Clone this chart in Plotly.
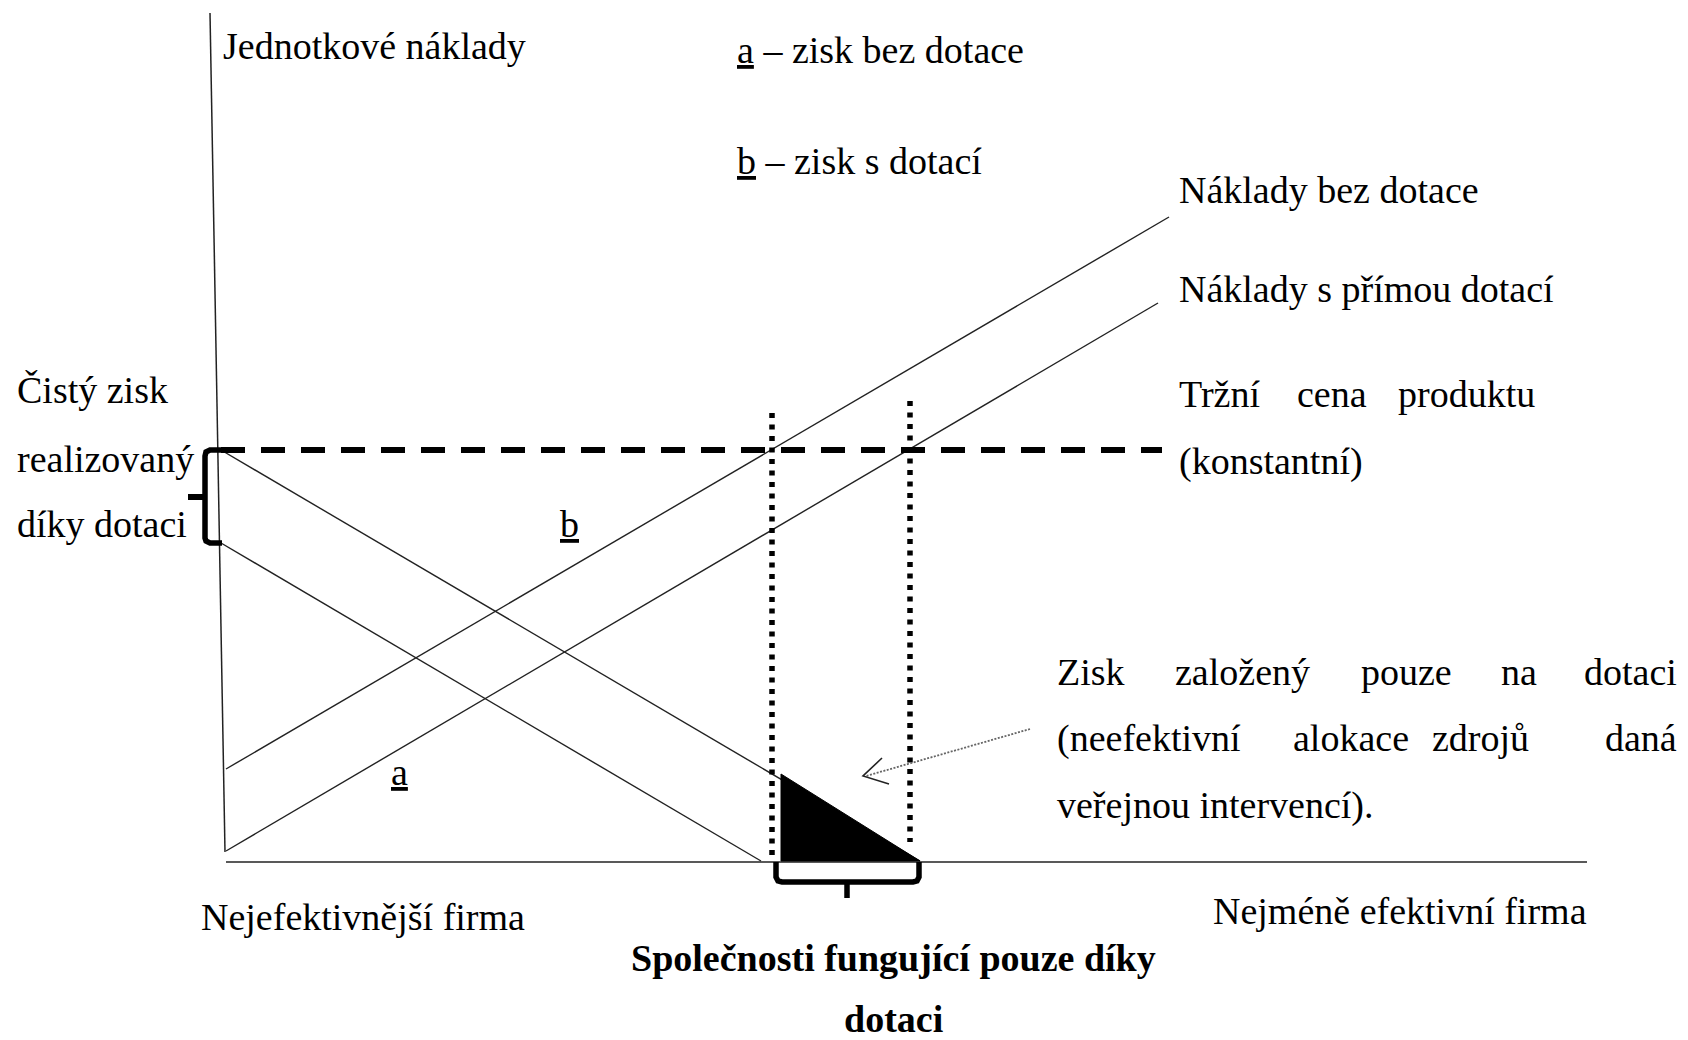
import plotly.graph_objects as go

# ---------------- data (diagram coordinates: x to the right, y downward) ----------------
y_axis_x = [210, 225]
y_axis_y = [13, 852]
x_axis_x = [226, 1587]
x_axis_y = [862, 862]

price_x = [221, 1162]              # market price (constant) - dashed
price_y = [450, 450]

cost_no_sub_x = [226, 1169]        # Náklady bez dotace
cost_no_sub_y = [769, 217]
cost_sub_x = [226, 1158]           # Náklady s přímou dotací
cost_sub_y = [851, 303]

profit_b_x = [221, 920]            # profit with subsidy
profit_b_y = [450, 861]
profit_a_x = [221, 761]            # profit without subsidy
profit_a_y = [543, 861]

dot_left_x = [772, 772]
dot_left_y = [413, 855]
dot_right_x = [910, 910]
dot_right_y = [401, 842]

triangle_x = [781, 781, 920, 781]
triangle_y = [774, 861, 861, 774]

arrow_shaft_x = [1030, 866]
arrow_shaft_y = [729, 776]
arrow_head_x = [882, 863, 889]
arrow_head_y = [758, 776, 784]

brace_left_x = [223, 210, 206, 205, 205, 206, 210, 222]
brace_left_y = [450, 450, 452, 456, 538, 541, 543, 543]
brace_left_nib_x = [188, 205]
brace_left_nib_y = [497, 497]

brace_bottom_x = [776, 776, 778, 782, 913, 917, 919, 919]
brace_bottom_y = [862, 877, 881, 882, 882, 881, 877, 862]
brace_bottom_stem_x = [847, 847]
brace_bottom_stem_y = [882, 898]

FONT = "Liberation Serif"
FS = 38

fig = go.Figure()


def line(x, y, width=1.4, color="#222", dash="solid", fill=None, fillcolor=None):
    fig.add_trace(go.Scatter(
        x=x, y=y, mode="lines",
        line=dict(color=color, width=width, dash=dash),
        fill=fill, fillcolor=fillcolor,
        hoverinfo="skip", showlegend=False))


line(y_axis_x, y_axis_y, width=1.5)
line(x_axis_x, x_axis_y, width=1.6)
line(cost_no_sub_x, cost_no_sub_y)
line(cost_sub_x, cost_sub_y)
line(profit_b_x, profit_b_y)
line(profit_a_x, profit_a_y)
line(triangle_x, triangle_y, width=1, color="black", fill="toself", fillcolor="black")
line(price_x, price_y, width=6, color="black", dash="24px,16px")
line(dot_left_x, dot_left_y, width=5.5, color="black", dash="5px,6.5px")
line(dot_right_x, dot_right_y, width=5.5, color="black", dash="5px,6.5px")
line(arrow_shaft_x, arrow_shaft_y, width=1.8, color="#666", dash="2px,1.5px")
line(arrow_head_x, arrow_head_y, width=1.6, color="#222")
line(brace_left_x, brace_left_y, width=5.5, color="black")
line(brace_left_nib_x, brace_left_nib_y, width=6, color="black")
line(brace_bottom_x, brace_bottom_y, width=5.5, color="black")
line(brace_bottom_stem_x, brace_bottom_stem_y, width=5.5, color="black")

texts = [
    # text, x, y, xanchor, bold
    ("Jednotkové náklady", 221, 46, "left", False),
    ("<u>a</u> – zisk bez dotace", 735, 50, "left", False),
    ("<u>b</u> – zisk s dotací", 735, 161, "left", False),
    ("Náklady bez dotace", 1177, 190, "left", False),
    ("Náklady s přímou dotací", 1177, 289, "left", False),
    ("Tržní", 1177, 394, "left", False),
    ("cena", 1295, 394, "left", False),
    ("produktu", 1396, 394, "left", False),
    ("(konstantní)", 1177, 461, "left", False),
    ("Čistý zisk", 15, 390, "left", False),
    ("realizovaný", 15, 459, "left", False),
    ("díky dotaci", 15, 524, "left", False),
    ("<u>b</u>", 569, 524, "center", False),
    ("<u>a</u>", 399, 772, "center", False),
    ("Zisk", 1055, 672, "left", False),
    ("založený", 1173, 672, "left", False),
    ("pouze", 1359, 672, "left", False),
    ("na", 1499, 672, "left", False),
    ("dotaci", 1679, 672, "right", False),
    ("(neefektivní", 1055, 738, "left", False),
    ("alokace", 1291, 738, "left", False),
    ("zdrojů", 1430, 738, "left", False),
    ("daná", 1679, 738, "right", False),
    ("veřejnou intervencí).", 1055, 805, "left", False),
    ("Nejefektivnější firma", 199, 917, "left", False),
    ("Nejméně efektivní firma", 1211, 911, "left", False),
    ("Společnosti fungující pouze díky", 893, 958, "center", True),
    ("dotaci", 893, 1019, "center", True),
]

for t, x, y, xa, bold in texts:
    fig.add_annotation(
        x=x, y=y, xref="x", yref="y", text=f"<b>{t}</b>" if bold else t,
        showarrow=False, xanchor=xa, yanchor="middle",
        font=dict(family=FONT, size=FS, color="black"))

fig.update_layout(
    width=1688, height=1040,
    margin=dict(l=0, r=0, t=0, b=0),
    paper_bgcolor="white", plot_bgcolor="white",
    xaxis=dict(range=[0, 1688], visible=False, fixedrange=True),
    yaxis=dict(range=[1040, 0], visible=False, fixedrange=True),
    showlegend=False,
)

fig.write_html(
    "out.html",
    config={"displayModeBar": False},
    post_script="document.body.style.margin='0px';document.body.style.overflow='hidden';",
)
